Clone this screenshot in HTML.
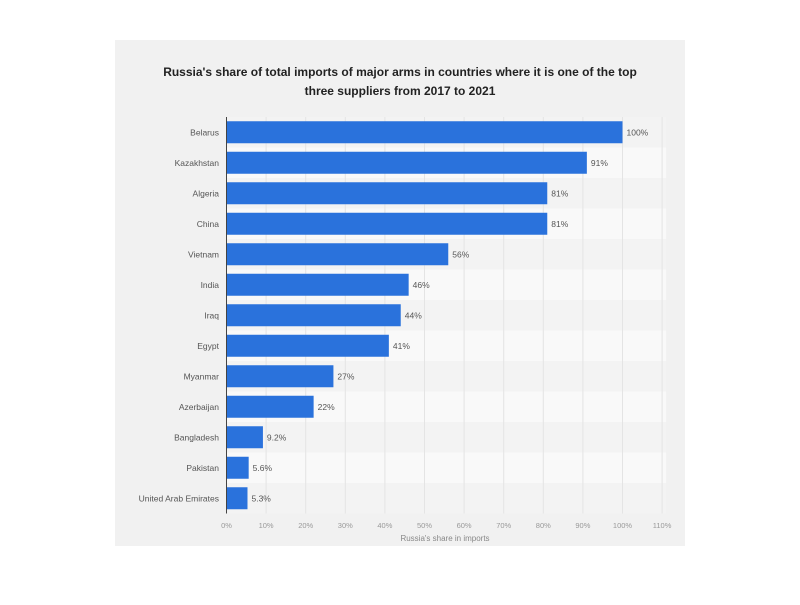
<!DOCTYPE html>
<html><head><meta charset="utf-8"><style>
body{margin:0;background:#fff;width:800px;height:600px;overflow:hidden;font-family:"Liberation Sans",sans-serif}
</style></head><body>
<svg width="800" height="600" id="c">
<rect x="115" y="40" width="570" height="506" fill="#f1f1f1"/>
<text x="400" y="76" text-anchor="middle" font-size="12" font-weight="bold" fill="#222">Russia's share of total imports of major arms in countries where it is one of the top</text>
<text x="400" y="95" text-anchor="middle" font-size="12" font-weight="bold" fill="#222">three suppliers from 2017 to 2021</text>
<g id="plot"></g>
<text x="445" y="541" text-anchor="middle" font-size="8" fill="#888">Russia's share in imports</text>
</svg>
<script>
const categories=["Belarus","Kazakhstan","Algeria","China","Vietnam","India","Iraq","Egypt","Myanmar","Azerbaijan","Bangladesh","Pakistan","United Arab Emirates"];
const values=[100,91,81,81,56,46,44,41,27,22,9.2,5.6,5.3];
const valueLabels=["100%","91%","81%","81%","56%","46%","44%","41%","27%","22%","9.2%","5.6%","5.3%"];
const ticks=[0,10,20,30,40,50,60,70,80,90,100,110];
const x0=226.5,pxPer=3.96,plotTop=117,rowH=30.5,barH=22;
const xs=v=>x0+v*pxPer;
const g=document.getElementById('plot');
const ns='http://www.w3.org/2000/svg';
function mk(t,a){const e=document.createElementNS(ns,t);for(const k in a)e.setAttribute(k,a[k]);g.appendChild(e);return e;}
categories.forEach((c,i)=>{
  const r=mk('rect',{x:x0,y:plotTop+i*rowH,width:xs(110)-x0+4,height:rowH,fill:i%2?'#f9f9f9':'#f3f3f3'});
  
  
});
ticks.forEach(t=>{
  const l=mk('line',{x1:xs(t),x2:xs(t),y1:plotTop,y2:plotTop+rowH*categories.length,stroke:'#e4e4e4','stroke-width':1});
  
  
  const tx=mk('text',{x:xs(t),y:528,'text-anchor':'middle','font-size':7.5,fill:'#999'});
  tx.textContent=t+'%';
  
  
});
categories.forEach((c,i)=>{
  const cy=plotTop+i*rowH+rowH/2;
  const b=mk('rect',{x:x0,y:cy-barH/2,width:xs(values[i])-x0,height:barH,fill:'#2a72dc'});
  
  
  const lb=mk('text',{x:219,y:cy+3,'text-anchor':'end','font-size':8.5,fill:'#555'});
  lb.textContent=c;
  
  
  const vl=mk('text',{x:xs(values[i])+4,y:cy+3,'font-size':8.5,fill:'#555'});
  vl.textContent=valueLabels[i];
  
  
});
const ax=mk('line',{x1:x0,x2:x0,y1:plotTop,y2:plotTop+rowH*categories.length,stroke:'#444','stroke-width':1});


</script>
</body></html>
